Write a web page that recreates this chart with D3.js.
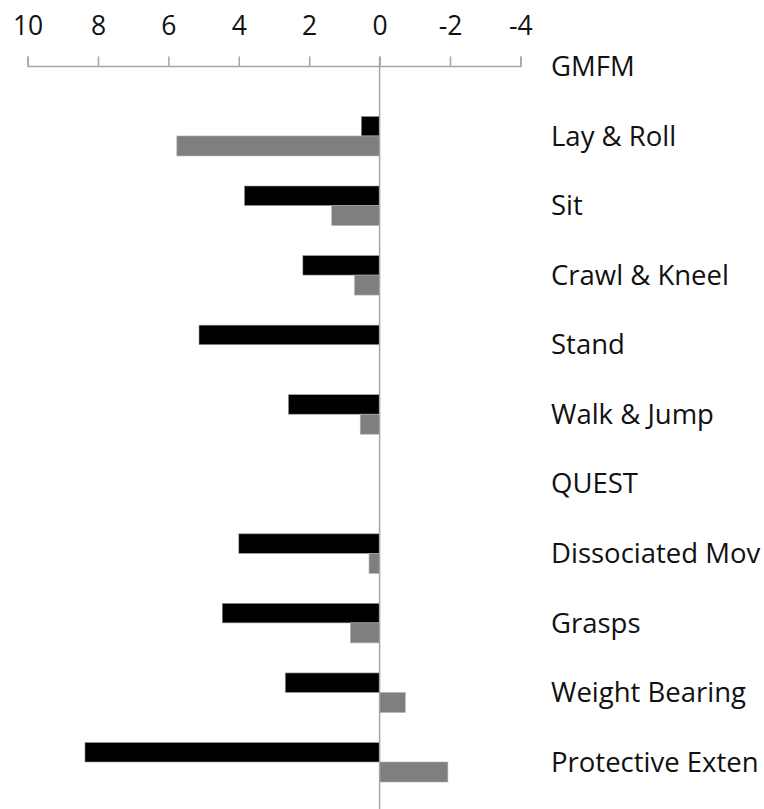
<!DOCTYPE html>
<html>
<head>
<meta charset="utf-8">
<script src="https://cdn.jsdelivr.net/npm/d3@7"></script>
<style>
  body { margin: 0; background: #fff; }
  svg { display: block; font-family: "Open Sans", Lato, sans-serif; }
</style>
</head>
<body>
<svg id="chart" width="764" height="809"></svg>
<script>
// chart values
const categories = ["GMFM", "Lay & Roll", "Sit", "Crawl & Kneel", "Stand", "Walk & Jump",
    "QUEST", "Dissociated Mov", "Grasps", "Weight Bearing", "Protective Exten"];
const blackSeries = [null, 0.52, 3.84, 2.18, 5.13, 2.59, null, 4.0, 4.47, 2.68, 8.37];
const graySeries = [null, 5.76, 1.36, 0.71, 0, 0.55, null, 0.30, 0.83, -0.73, -1.94];
const tickValues = [10, 8, 6, 4, 2, 0, -2, -4];

const svg = d3.select("#chart");

const x = d3.scaleLinear()
    .domain([10, -4])
    .range([27.6, 520.4]);

const y = d3.scalePoint()
    .domain(categories)
    .range([66.4, 762]);

const barH = 19.5;
const axisY = 66;

// bars: black above the category line, gray below
const rows = categories.map((c, i) => ({ cat: c, a: blackSeries[i], b: graySeries[i] }));

svg.append("g").selectAll("rect")
    .data(rows.filter(d => d.a != null && d.a !== 0))
    .join("rect")
    .attr("x", d => Math.min(x(d.a), x(0)))
    .attr("width", d => Math.abs(x(d.a) - x(0)))
    .attr("y", d => y(d.cat) - barH)
    .attr("height", barH)
    .attr("fill", "#000")
    .attr("stroke", "#9a9a9a")
    .attr("stroke-width", 0.6);

svg.append("g").selectAll("rect")
    .data(rows.filter(d => d.b != null && d.b !== 0))
    .join("rect")
    .attr("x", d => Math.min(x(d.b), x(0)))
    .attr("width", d => Math.abs(x(d.b) - x(0)))
    .attr("y", d => y(d.cat))
    .attr("height", barH + 0.5)
    .attr("fill", "#7f7f7f")
    .attr("stroke", "#b0b0b0")
    .attr("stroke-width", 0.6);

// value axis on top, ticks pointing up
const axis = svg.append("g")
    .attr("transform", `translate(0,${axisY})`)
    .call(d3.axisTop(x)
        .tickValues(tickValues)
        .tickFormat(d => String(d))
        .tickSize(9.5)
        .tickSizeOuter(9.5)
        .tickPadding(22));

axis.selectAll("path, line")
    .attr("stroke", "#a6a6a6")
    .attr("stroke-width", 1.5);
axis.selectAll("text")
    .attr("fill", "#111")
    .attr("font-family", "'Open Sans', Lato, sans-serif")
    .attr("font-size", 26.5);

// zero line
svg.append("line")
    .attr("x1", x(0)).attr("x2", x(0))
    .attr("y1", axisY - 9.5)
    .attr("y2", 809)
    .attr("stroke", "#a6a6a6")
    .attr("stroke-width", 1.5);

// category labels
svg.append("g").selectAll("text")
    .data(categories)
    .join("text")
    .attr("x", 551)
    .attr("y", d => y(d))
    .attr("dy", "0.35em")
    .attr("fill", "#111")
    .attr("font-size", 27.5)
    .text(d => d);
</script>
</body>
</html>
